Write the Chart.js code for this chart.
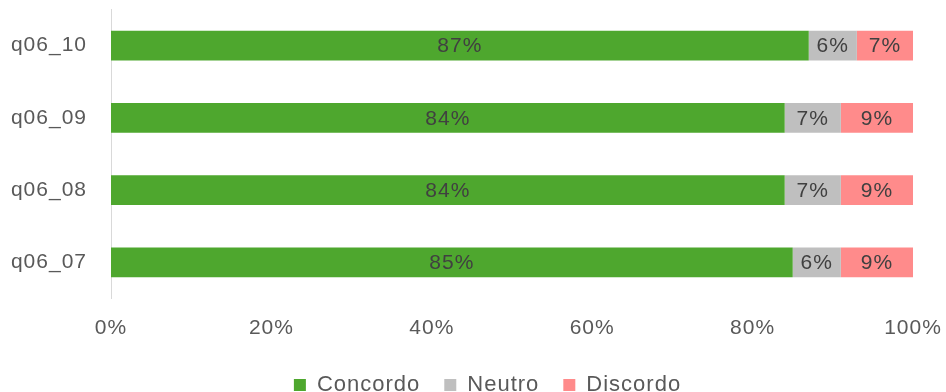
<!DOCTYPE html>
<html>
<head>
<meta charset="utf-8">
<script src="https://cdn.jsdelivr.net/npm/chart.js@4"></script>
<style>
  html, body { margin: 0; padding: 0; background: #fff; }
  #wrap { width: 946px; height: 392px; }
</style>
</head>
<body>
<div id="wrap"><canvas id="respChart" width="946" height="392"></canvas></div>
<script>
const questions = ['q06_10', 'q06_09', 'q06_08', 'q06_07'];
const concordo = [87, 84, 84, 85];
const neutro = [6, 7, 7, 6];
const discordo = [7, 9, 9, 9];

const FONT = '"Liberation Sans", Arial, sans-serif';

// a bit of tracking on all canvas text (canvas resets it on resize)
const tracking = {
    id: 'tracking',
    afterInit(chart) { chart.ctx.letterSpacing = '1px'; },
    beforeUpdate(chart) { chart.ctx.letterSpacing = '1px'; },
    beforeDraw(chart) { chart.ctx.letterSpacing = '1px'; },
    // the left padding only serves to nudge the legend; let the
    // category labels use that strip instead of being clipped
    afterLayout(chart) { chart.scales.y.left = 0; }
};

// writes the percentage in the middle of every segment
const segmentLabels = {
    id: 'segmentLabels',
    afterDatasetsDraw(chart) {
        const ctx = chart.ctx;
        ctx.save();
        ctx.font = '21px ' + FONT;
        ctx.fillStyle = '#404040';
        ctx.textAlign = 'center';
        ctx.textBaseline = 'middle';
        chart.data.datasets.forEach((ds, i) => {
            chart.getDatasetMeta(i).data.forEach((bar, j) => {
                const x = (bar.x + bar.base) / 2;
                ctx.fillText(ds.data[j] + '%', x, bar.y + 1);
            });
        });
        ctx.restore();
    }
};

Chart.defaults.font.family = FONT;
Chart.defaults.font.size = 21;
Chart.defaults.color = '#595959';

new Chart(document.getElementById('respChart'), {
    type: 'bar',
    data: {
        labels: questions,
        datasets: [
            { label: 'Concordo', data: concordo, backgroundColor: '#4ea72e' },
            { label: 'Neutro', data: neutro, backgroundColor: '#bfbfbf' },
            { label: 'Discordo', data: discordo, backgroundColor: '#ff8b8b' }
        ]
    },
    options: {
        indexAxis: 'y',
        responsive: false,
        animation: false,
        // left padding + y axis width put the plot edge at x=111
        layout: { padding: { left: 62, right: 33, top: 9.5, bottom: -14 } },
        datasets: { bar: { barPercentage: 0.82, categoryPercentage: 0.5 } },
        scales: {
            x: {
                stacked: true,
                min: 0,
                max: 100,
                grid: { display: false, drawTicks: false },
                border: { display: false },
                ticks: { stepSize: 20, padding: 17, callback: v => v + '%' },
                afterFit: s => { s.height = 51.5; s.paddingLeft = 0; s.paddingRight = 0; }
            },
            y: {
                stacked: true,
                grid: { display: false, drawTicks: false },
                border: { display: true, color: '#d9d9d9', width: 1 },
                ticks: { padding: 24 },
                afterFit: s => { s.width = 49; s.paddingTop = 0; s.paddingBottom = 0; }
            }
        },
        plugins: {
            legend: {
                position: 'bottom',
                labels: { boxWidth: 12, boxHeight: 12, padding: 24, color: '#595959', font: { size: 22 } }
            },
            tooltip: { enabled: false }
        }
    },
    plugins: [tracking, segmentLabels]
});
</script>
</body>
</html>
